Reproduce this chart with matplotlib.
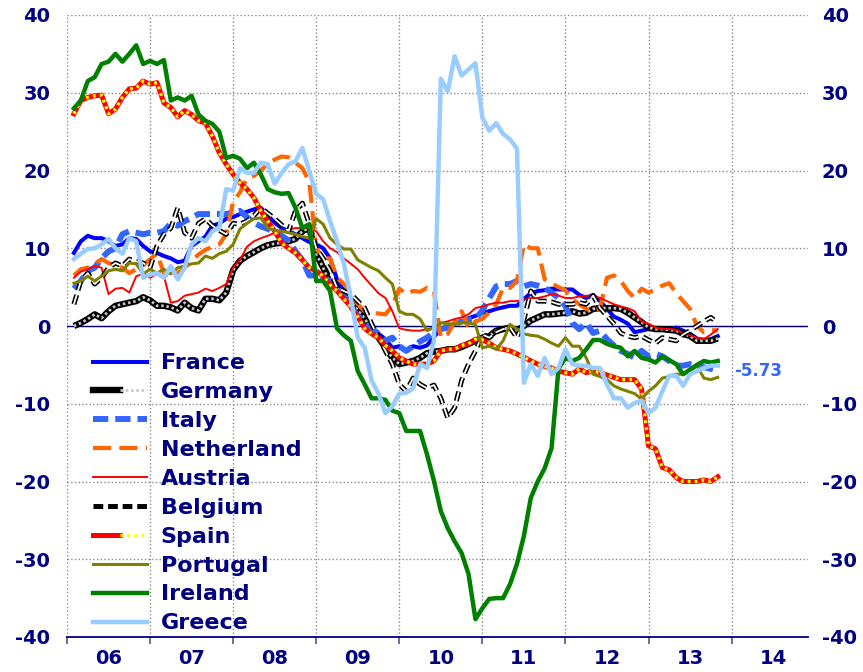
import numpy as np
import pandas as pd
import matplotlib
matplotlib.use("Agg")
import matplotlib.pyplot as plt
from matplotlib.lines import Line2D
from matplotlib.legend_handler import HandlerTuple

plt.rcParams['font.family'] = ['DejaVu Sans']
plt.rcParams['lines.scale_dashes'] = False
plt.rcParams['axes.unicode_minus'] = False

# monthly, Feb 2006 .. Nov 2013
months = pd.period_range('2006-02', '2013-11', freq='M')

france = [9.4, 10.9, 11.6, 11.3, 11.3, 10.9, 10.3, 10.5, 11.3, 11.2, 10.3,
          9.6, 9.4, 9.0, 8.7, 8.2, 8.4, 10.3, 10.9, 11.5, 12.9, 13.2, 13.8,
          14.0, 14.4, 14.7, 15.0, 15.2, 14.2, 13.3, 12.6, 12.2, 11.8, 11.3, 10.8,
          10.5, 10.0, 8.7, 6.0, 4.5, 3.5, 2.3, 0.8, -0.5, -1.0, -1.7, -2.8,
          -2.6, -3.2, -2.6, -2.8, -2.5, -1.4, -0.4, 0.0, 0.3, 0.6, 1.0, 1.3,
          1.7, 1.9, 2.2, 2.4, 2.6, 2.6, 3.5, 4.2, 4.5, 4.6, 4.8, 4.7,
          4.7, 4.7, 4.0, 3.6, 4.0, 3.2, 2.2, 1.2, 0.8, 0.3, -0.8, -0.6,
          -0.4, -0.4, -0.5, -0.6, -0.2, -0.6, -1.0, -1.6, -1.9, -1.7, -1.3]

germany = [0.0, 0.4, 0.9, 1.5, 1.0, 1.9, 2.6, 2.8, 3.0, 3.2, 3.7,
           3.3, 2.6, 2.6, 2.4, 2.0, 3.0, 2.3, 2.0, 3.5, 3.5, 3.3, 4.3,
           7.2, 8.4, 9.0, 9.5, 10.0, 10.4, 10.6, 10.7, 10.9, 11.2, 12.2, 12.6,
           9.3, 7.5, 5.5, 4.9, 4.0, 3.2, 2.0, 1.0, -0.6, -1.5, -2.8, -4.1,
           -4.9, -4.7, -4.5, -4.1, -3.5, -3.3, -3.2, -3.0, -3.0, -2.7, -2.3, -1.9,
           -1.5, -1.3, -0.6, -0.4, -0.2, -0.6, 0.0, 0.7, 1.1, 1.5, 1.5, 1.6,
           1.7, 1.9, 1.6, 1.7, 2.2, 2.3, 2.3, 2.3, 2.2, 1.7, 1.1, 0.5,
           -0.2, -0.4, -0.4, -0.5, -0.6, -1.0, -1.3, -1.9, -1.9, -1.9, -1.6]

italy = [4.8, 5.8, 7.1, 7.5, 8.7, 9.6, 10.0, 11.8, 12.2, 12.0, 11.8,
         12.0, 12.0, 12.2, 13.2, 12.9, 13.5, 13.9, 14.4, 14.4, 14.4, 14.4, 14.4,
         14.6, 14.8, 14.0, 13.3, 12.8, 12.5, 12.0, 11.6, 11.0, 9.6, 8.5, 6.5,
         6.5, 6.0, 5.8, 5.0, 3.8, 2.5, 1.3, 0.6, -0.3, -1.0, -1.9, -1.5,
         -2.6, -3.2, -2.6, -2.0, -1.5, -0.8, -0.4, -0.2, 0.2, 0.6, 0.8, 0.9,
         2.0, 3.6, 5.1, 5.4, 5.4, 5.8, 5.1, 5.4, 5.2, 4.9, 4.3, 3.6,
         2.6, 0.4, -0.4, 0.4, -0.9, -0.6, -1.7, -2.5, -3.2, -3.6, -4.1, -3.2,
         -3.9, -3.6, -3.9, -4.5, -5.1, -5.1, -4.9, -5.1, -5.3, -5.5, -5.73]

netherland = [6.5, 7.3, 7.5, 8.0, 8.6, 8.1, 7.8, 7.5, 6.8, 7.3, 7.8,
              8.6, 9.3, 6.8, 6.3, 6.8, 7.5, 8.4, 9.2, 9.8, 10.2, 10.5, 11.8,
              16.0, 17.2, 19.0, 19.3, 20.0, 20.9, 21.4, 21.8, 21.7, 21.0, 20.3, 18.5,
              10.0, 8.7, 8.7, 6.2, 5.4, 4.2, 2.8, 1.9, 1.7, 1.6, 1.5, 2.6,
              4.8, 4.1, 4.5, 4.4, 4.9, 4.5, -1.5, -1.0, 0.5, 1.9, -0.2, 0.6,
              0.9, 1.8, 2.8, 4.9, 4.9, 5.8, 10.5, 10.0, 10.0, 6.0, 5.5, 5.0,
              4.6, 3.4, 2.8, 2.2, 1.9, 2.3, 6.2, 6.5, 5.8, 4.5, 3.6, 4.8,
              4.3, 4.7, 5.2, 5.5, 4.2, 3.2, 2.2, 0.0, -0.8, -0.5, -0.6]

austria = [6.2, 7.0, 7.3, 7.7, 7.5, 4.1, 4.8, 4.9, 4.3, 6.4, 6.7,
           6.2, 6.7, 6.4, 3.0, 3.2, 3.9, 4.1, 4.3, 4.8, 4.5, 4.9, 5.4,
           7.5, 8.5, 10.2, 10.9, 11.3, 11.6, 12.0, 12.2, 12.4, 12.6, 12.6, 12.6,
           12.2, 10.9, 10.0, 9.5, 8.7, 8.0, 7.3, 6.2, 5.2, 4.2, 3.6, 1.9,
           -0.3, -0.5, -0.6, -0.6, -0.4, -0.2, 0.4, 0.6, 0.9, 1.1, 1.5, 2.3,
           2.5, 2.8, 3.0, 3.0, 3.2, 3.2, 3.4, 3.6, 3.6, 3.8, 4.1, 3.9,
           3.6, 3.6, 3.8, 3.9, 3.9, 3.6, 3.2, 2.8, 2.5, 2.3, 1.9, 0.6,
           0.3, -0.2, -0.4, -0.4, -0.5, -0.9, -1.2, -1.5, -1.7, -1.1, -0.4]

belgium = [2.8, 5.8, 6.8, 5.4, 6.2, 7.5, 8.1, 7.7, 8.6, 8.3, 8.1,
           7.5, 10.3, 11.8, 12.6, 15.2, 12.0, 11.3, 13.2, 13.8, 12.9, 12.3, 11.8,
           13.2, 13.1, 13.5, 14.2, 15.2, 14.5, 13.8, 13.0, 12.2, 14.8, 15.8, 13.1,
           10.0, 8.7, 7.1, 4.9, 4.5, 4.1, 3.2, 2.3, 0.3, -1.5, -3.2, -4.9,
           -7.5, -8.4, -6.7, -7.5, -8.0, -7.6, -9.3, -11.8, -10.5, -7.0, -4.9, -3.2,
           -1.1, -1.5, -0.8, -0.4, -0.2, -1.5, 0.8, 4.5, 3.2, 3.2, 3.1, 2.8,
           2.8, 2.8, 3.0, 2.8, 3.9, 2.3, 1.3, 0.3, -0.9, -1.3, -1.5, -1.3,
           -1.8, -2.2, -1.5, -1.7, -1.9, -1.1, -0.6, 0.0, 0.6, 1.1, 0.4]

spain = [27.3, 29.0, 29.4, 29.6, 29.7, 27.3, 27.9, 29.4, 30.5, 30.6, 31.5,
         31.1, 31.3, 28.7, 28.1, 26.9, 27.7, 27.2, 26.4, 26.1, 24.4, 22.3, 20.8,
         19.5, 18.4, 17.6, 16.5, 14.8, 13.5, 12.2, 10.7, 10.0, 9.4, 8.5, 7.5,
         7.1, 6.4, 5.3, 4.5, 3.5, 2.5, 1.2, -0.3, -1.0, -1.5, -2.5, -3.2,
         -4.1, -4.5, -4.9, -4.9, -4.9, -4.5, -3.2, -3.0, -3.0, -2.5, -2.3, -1.7,
         -1.8, -2.2, -2.8, -3.0, -3.2, -3.6, -4.0, -4.5, -4.9, -5.2, -5.4, -5.8,
         -6.0, -6.2, -5.5, -6.0, -5.8, -6.0, -6.3, -6.6, -6.9, -6.9, -6.9, -8.1,
         -15.4, -15.8, -18.2, -18.5, -19.5, -20.0, -20.0, -20.0, -19.8, -20.0, -19.4]

portugal = [5.5, 5.8, 6.4, 5.8, 6.4, 7.1, 7.3, 7.1, 8.1, 8.0, 6.7,
            7.3, 6.8, 7.3, 6.7, 7.5, 7.7, 8.0, 8.1, 9.0, 8.7, 9.3, 9.6,
            10.5, 12.5, 13.2, 13.8, 13.9, 12.6, 12.3, 12.2, 12.0, 11.8, 11.5, 11.3,
            13.8, 13.1, 11.3, 10.5, 9.9, 9.9, 8.5, 8.0, 7.5, 7.1, 6.2, 5.4,
            1.9, 1.5, 1.5, 0.9, -0.6, -0.2, 0.4, 0.3, 0.2, 0.4, 0.4, 0.2,
            -2.8, -2.6, -3.0, -1.9, 0.2, -0.4, -1.0, -1.2, -1.3, -1.7, -2.2, -2.6,
            -1.5, -2.6, -2.6, -4.1, -6.2, -6.5, -6.9, -7.7, -8.1, -8.4, -8.7, -9.4,
            -8.4, -7.7, -6.7, -6.5, -6.2, -6.2, -5.8, -5.1, -6.7, -6.9, -6.6]

ireland = [28.0, 29.0, 31.5, 32.0, 33.7, 34.0, 35.0, 34.0, 35.0, 36.1, 33.7,
           34.1, 33.7, 34.2, 29.0, 29.4, 29.0, 29.6, 27.2, 26.4, 26.0, 25.0, 21.6,
           21.9, 21.5, 20.3, 21.0, 19.5, 17.6, 17.2, 17.0, 17.1, 15.2, 12.6, 13.1,
           5.8, 5.8, 4.5, -0.3, -1.2, -1.9, -5.8, -7.5, -9.3, -9.3, -9.5, -10.9,
           -11.2, -13.5, -13.5, -13.5, -16.5, -19.9, -23.8, -26.0, -27.7, -29.2, -31.9, -37.7,
           -36.3, -35.1, -35.0, -35.0, -33.2, -30.6, -27.0, -22.1, -20.0, -18.3, -15.7, -5.5,
           -4.1, -4.5, -4.1, -3.0, -1.8, -1.8, -2.3, -2.6, -2.8, -3.9, -3.2, -4.1,
           -4.3, -4.7, -3.9, -4.4, -4.9, -6.2, -5.6, -5.0, -4.5, -4.7, -4.5]

greece = [8.6, 9.3, 9.9, 10.0, 10.5, 11.2, 10.0, 9.3, 11.3, 10.9, 6.2,
          6.6, 6.8, 6.2, 7.7, 6.0, 7.5, 10.5, 11.3, 10.9, 12.2, 12.6, 17.6,
          17.4, 20.3, 19.7, 19.7, 21.0, 20.8, 18.3, 19.7, 20.8, 21.2, 22.9, 19.9,
          17.0, 16.3, 13.5, 10.9, 8.0, 3.6, -1.5, -2.8, -7.0, -8.7, -11.2, -10.3,
          -8.7, -8.6, -8.0, -4.9, -5.4, -1.9, 31.8, 30.2, 34.7, 32.2, 33.0, 33.8,
          26.8, 25.1, 26.1, 24.7, 24.0, 22.8, -7.3, -4.9, -6.4, -4.1, -6.2, -5.4,
          -3.0, -4.9, -5.1, -5.1, -5.4, -5.4, -7.5, -9.3, -9.3, -10.5, -9.9, -9.6,
          -11.2, -10.5, -8.4, -6.4, -6.4, -7.7, -6.2, -5.8, -5.4, -5.1, -5.1]

year_labels = ['06', '07', '08', '09', '10', '11', '12', '13', '14']

navy = '#000080'
x = months.year + (months.month - 1) / 12.0

fig = plt.figure(figsize=(8.63, 6.72), dpi=100)
ax = fig.add_axes([67 / 863, 35 / 672, 741 / 863, 622 / 672])

ax.plot(x, france, color='#0000FF', lw=2.9, zorder=3)
ax.plot(x, germany, color='black', lw=4.6, zorder=3.1, solid_capstyle='butt')
ax.plot(x, germany, color='#C8C8C8', lw=2.0, dashes=(1.8, 2.0), zorder=3.2)
ax.plot(x, italy, color='#3366FF', lw=4.3, dashes=(11, 5), zorder=3.3)
ax.plot(x, netherland, color='#FF6600', lw=3.0, dashes=(13, 6), zorder=3.4)
ax.plot(x, austria, color='#FF0000', lw=1.4, zorder=3.5)
ax.plot(x, belgium, color='black', lw=3.6, dashes=(7, 3.5), zorder=3.6)
ax.plot(x, belgium, color='white', lw=1.3, dashes=(7, 3.5), zorder=3.7)
ax.plot(x, spain, color='#FF0000', lw=3.6, zorder=3.8)
ax.plot(x, spain, color='#FFFF00', lw=2.4, dashes=(2.0, 3.0), zorder=3.9)
ax.plot(x, portugal, color='#808000', lw=2.2, zorder=4.0)
ax.plot(x, ireland, color='#008000', lw=3.2, zorder=4.1)
ax.plot(x, greece, color='#99CCFF', lw=3.2, zorder=4.2)

ax.axhline(0, color=navy, lw=1.0, zorder=2)

ax.text(x[-1] + 0.2, italy[-1], '-5.73', color='#3366FF', fontsize=12,
        fontweight='bold', va='center', ha='left', clip_on=False)

ax.set_xlim(2006, 2014.92)
ax.set_ylim(-40, 40)
years = np.arange(2006, 2015)
ax.set_xticks(years)
ax.set_xticklabels([])
ax.set_xticks(years + 0.5, minor=True)
ax.set_xticklabels(year_labels, minor=True)
ax.tick_params(axis='x', which='major', length=5, width=1.2, color='#5050A0', direction='out')
ax.tick_params(axis='x', which='minor', length=0, pad=9, labelsize=14, labelcolor=navy)
ax.set_yticks(np.arange(-40, 41, 10))
ax.tick_params(axis='y', length=0, pad=12, labelsize=14, labelcolor=navy)
for t in ax.get_xticklabels(minor=True) + ax.get_yticklabels():
    t.set_fontweight('bold')

ax.grid(True, which='major', ls=':', color='#888888', lw=1.0, zorder=1)
ax.set_axisbelow(True)
for side in ['left', 'right', 'top']:
    ax.spines[side].set_visible(False)
ax.spines['bottom'].set_color(navy)
ax.spines['bottom'].set_linewidth(1.3)

ax2 = ax.twinx()
ax2.set_ylim(-40, 40)
ax2.set_yticks(np.arange(-40, 41, 10))
ax2.tick_params(axis='y', length=0, pad=10, labelsize=14, labelcolor=navy)
for t in ax2.get_yticklabels():
    t.set_fontweight('bold')
for s in ax2.spines.values():
    s.set_visible(False)

handles = [
    Line2D([], [], color='#0000FF', lw=2.9),
    (Line2D([], [], color='black', lw=4.6), Line2D([], [], color='#C8C8C8', lw=2.0, dashes=(1.8, 2.0))),
    Line2D([], [], color='#3366FF', lw=4.3, dashes=(11, 5)),
    Line2D([], [], color='#FF6600', lw=3.0, dashes=(13, 6)),
    Line2D([], [], color='#FF0000', lw=1.4),
    Line2D([], [], color='black', lw=3.6, dashes=(7, 3.5)),
    (Line2D([], [], color='#FF0000', lw=3.6), Line2D([], [], color='#FFFF00', lw=2.4, dashes=(2.0, 3.0))),
    Line2D([], [], color='#808000', lw=2.2),
    Line2D([], [], color='#008000', lw=3.2),
    Line2D([], [], color='#99CCFF', lw=3.2),
]
labels = ['France', 'Germany', 'Italy', 'Netherland', 'Austria', 'Belgium',
          'Spain', 'Portugal', 'Ireland', 'Greece']
leg = ax.legend(handles, labels, loc='upper left', bbox_to_anchor=(0.035, 0.456),
                frameon=False, handlelength=2.45, handletextpad=0.6,
                labelspacing=0.4, borderaxespad=0, borderpad=0,
                prop={'weight': 'bold', 'size': 16},
                handler_map={tuple: HandlerTuple(ndivide=None)})
for t in leg.get_texts():
    t.set_color(navy)
leg.set_zorder(10)

fig.savefig('out.png', dpi=100)
